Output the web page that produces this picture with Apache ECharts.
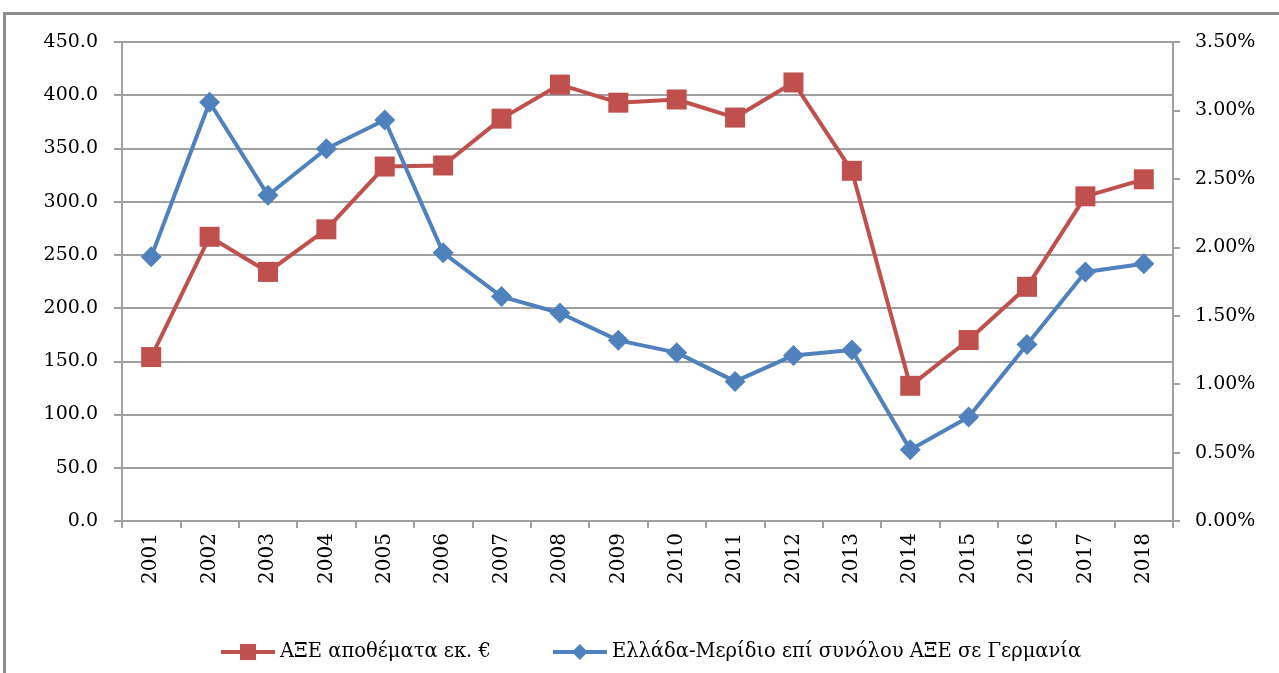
<!DOCTYPE html>
<html>
<head>
<meta charset="utf-8">
<script src="https://cdn.jsdelivr.net/npm/echarts@6/dist/echarts.min.js"></script>
<style>
  html, body { margin: 0; padding: 0; background: #fff; }
  #frame { position: absolute; left: 3px; top: 12px; width: 1400px; height: 800px;
           border-top: 3px solid #8e8e8e; border-left: 3px solid #8e8e8e; box-sizing: border-box; }
  #chart { position: absolute; left: 0; top: 0; width: 1279px; height: 673px; }
</style>
</head>
<body>
<div id="frame"></div>
<div id="chart"></div>
<script>
const years = ['2001','2002','2003','2004','2005','2006','2007','2008','2009','2010','2011','2012','2013','2014','2015','2016','2017','2018'];
const fdiStock = [154, 267, 234, 274, 333, 334, 378, 410, 393, 396, 379, 412, 329, 127, 170, 220, 305, 321];
const greeceShare = [1.93, 3.06, 2.38, 2.72, 2.93, 1.96, 1.64, 1.52, 1.32, 1.23, 1.02, 1.21, 1.25, 0.52, 0.76, 1.29, 1.82, 1.88];
const seriesNames = ['ΑΞΕ αποθέματα εκ. €', 'Ελλάδα-Μερίδιο επί συνόλου ΑΞΕ σε Γερμανία'];

const FONT = 'DejaVu Serif';
const RED = '#c0504d', BLUE = '#4f81bd';
const chart = echarts.init(document.getElementById('chart'), null, { renderer: 'canvas' });
chart.setOption({
  animation: false,
  backgroundColor: 'transparent',
  grid: { left: 122, right: 106, top: 42, bottom: 152, containLabel: false },
  legend: {
    top: 637,
    left: 214,
    itemWidth: 54,
    itemHeight: 20,
    itemGap: 60,
    textStyle: { fontFamily: FONT, fontSize: 19.5, color: '#000' },
    data: [
      { name: seriesNames[0], lineStyle: { width: 4, color: RED } },
      { name: seriesNames[1], lineStyle: { width: 4, color: BLUE } }
    ]
  },
  xAxis: {
    type: 'category',
    data: years,
    boundaryGap: true,
    axisLine: { lineStyle: { color: '#a0a0a0', width: 2 } },
    axisTick: { show: true, alignWithLabel: false, length: 7, lineStyle: { color: '#a0a0a0', width: 2 } },
    axisLabel: { rotate: 90, margin: 12, fontFamily: FONT, fontSize: 20, color: '#000', interval: 0 }
  },
  yAxis: [
    {
      type: 'value', min: 0, max: 450, interval: 50, position: 'left',
      axisLine: { show: true, lineStyle: { color: '#a0a0a0', width: 2 } },
      axisTick: { show: true, length: 8, lineStyle: { color: '#a0a0a0', width: 2 } },
      axisLabel: { margin: 24, fontFamily: FONT, fontSize: 19, color: '#000', formatter: v => v.toFixed(1) },
      splitLine: { show: true, lineStyle: { color: '#a0a0a0', width: 2 } }
    },
    {
      type: 'value', min: 0, max: 3.5, interval: 0.5, position: 'right',
      axisLine: { show: true, lineStyle: { color: '#a0a0a0', width: 2 } },
      axisTick: { show: true, length: 7, lineStyle: { color: '#a0a0a0', width: 2 } },
      axisLabel: { margin: 22, fontFamily: FONT, fontSize: 19, color: '#000', formatter: v => v.toFixed(2) + '%' },
      splitLine: { show: false }
    }
  ],
  series: [
    {
      name: seriesNames[0], type: 'line', yAxisIndex: 0, data: fdiStock,
      symbol: 'rect', symbolSize: 20,
      lineStyle: { color: RED, width: 4 },
      itemStyle: { color: RED }
    },
    {
      name: seriesNames[1], type: 'line', yAxisIndex: 1, data: greeceShare,
      symbol: 'diamond', symbolSize: [21, 21],
      lineStyle: { color: BLUE, width: 4 },
      itemStyle: { color: BLUE }
    }
  ]
});
</script>
</body>
</html>
